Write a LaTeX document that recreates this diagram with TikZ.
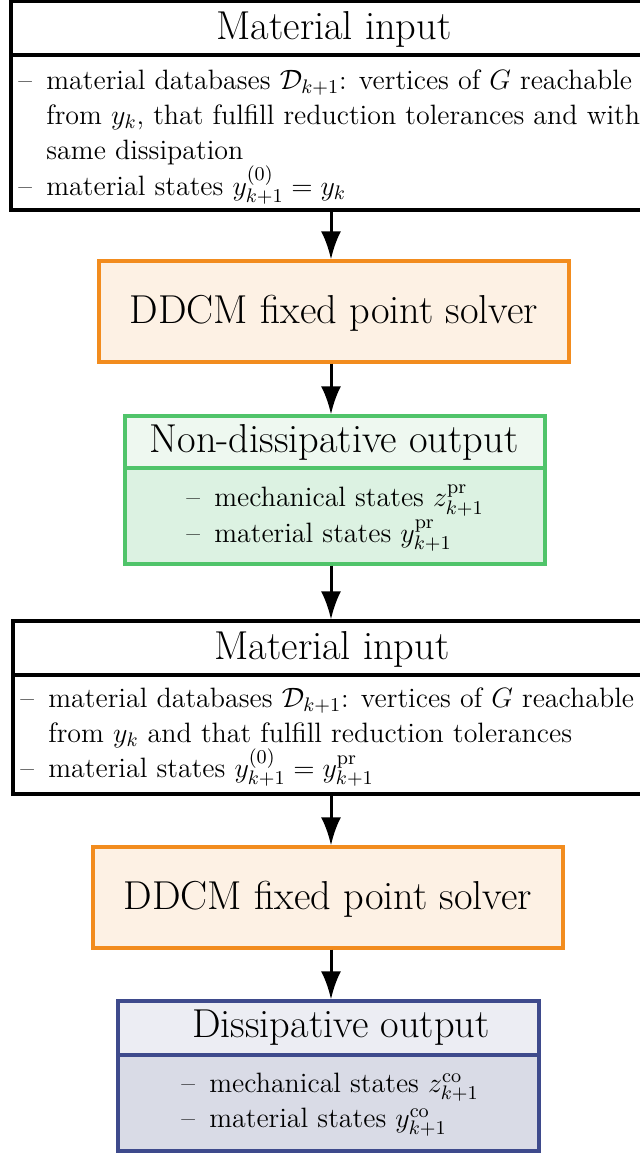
\RequirePackage{fix-cm}
\documentclass[tikz,border=0pt]{standalone}
\usetikzlibrary{fit,arrows.meta}
\definecolor{orbd}{RGB}{242,140,30}
\definecolor{orfl}{RGB}{253,241,228}
\definecolor{grbd}{RGB}{80,196,106}
\definecolor{grhd}{RGB}{238,248,240}
\definecolor{grfl}{RGB}{220,242,226}
\definecolor{blbd}{RGB}{62,74,140}
\definecolor{blhd}{RGB}{236,237,243}
\definecolor{blfl}{RGB}{217,219,230}
\newcommand\bodyfont{\fontsize{14.0}{17.6}\selectfont}
\newcommand\titlefont{\fontsize{20.2}{25}\selectfont}
\newcommand\lineitem{\makebox[14pt][l]{\textendash}}
\newcommand\contline{\hspace*{14pt}}
\begin{document}
\begin{tikzpicture}[x=0.5pt,y=-0.5pt,
  blackbox/.style={draw=black,line width=1.6pt,inner sep=0pt,fill=white},
  solverbox/.style={draw=orbd,line width=1.7pt,inner sep=0pt,fill=orfl},
  greenhead/.style={draw=grbd,line width=1.7pt,inner sep=0pt,fill=grhd},
  greenbody/.style={draw=grbd,line width=1.7pt,inner sep=0pt,fill=grfl},
  bluehead/.style={draw=blbd,line width=1.7pt,inner sep=0pt,fill=blhd},
  bluebody/.style={draw=blbd,line width=1.7pt,inner sep=0pt,fill=blfl},
  titletext/.style={inner sep=0pt,font=\titlefont},
  listtext/.style={inner sep=0pt,font=\bodyfont,align=left},
  hangtext/.style={inner sep=0pt,font=\bodyfont,align=left,anchor=west},
  arr/.style={line width=1.5pt,-{Latex[length=14pt,width=10pt]}}]
\useasboundingbox (0,0) rectangle (639,1153);
\coordinate (ax) at (331,0);
% first material input
\node[blackbox,fit={(11,1)(655,55)}] (m1h) {};
\node[blackbox,fit={(11,55)(655,210)}] (m1b) {};
\node[titletext] (m1t) at (334,29) {Material input};
\node[hangtext] (m1x) at (18,137) {%
\lineitem material databases $\mathcal{D}_{k+1}$: vertices of $G$ reachable\\
\contline from $y_k$, that fulfill reduction tolerances and with\\
\contline same dissipation\\
\lineitem material states $y^{(0)}_{k+1}=y_k$};
% first solver
\node[solverbox,fit={(99,261)(569,362)}] (s1) {};
\node[titletext] (s1t) at (334,313) {DDCM fixed point solver};
% non-dissipative output
\node[greenhead,fit={(125,416)(545,468)}] (gh) {};
\node[greenbody,fit={(125,468)(545,564)}] (gb) {};
\node[titletext] (ght) at (334,442) {Non-dissipative output};
\node[listtext] (gbt) at (335,518) {\lineitem mechanical states $z^{\mathrm{pr}}_{k+1}$\\ \lineitem material states $y^{\mathrm{pr}}_{k+1}$};
% second material input
\node[blackbox,fit={(13,621)(655,675)}] (m2h) {};
\node[blackbox,fit={(13,675)(655,794)}] (m2b) {};
\node[titletext] (m2t) at (332,649) {Material input};
\node[hangtext] (m2x) at (20,737) {%
\lineitem material databases $\mathcal{D}_{k+1}$: vertices of $G$ reachable\\
\contline from $y_k$ and that fulfill reduction tolerances\\
\lineitem material states $y^{(0)}_{k+1}=y^{\mathrm{pr}}_{k+1}$};
% second solver
\node[solverbox,fit={(93,847)(563,948)}] (s2) {};
\node[titletext] (s2t) at (328,899) {DDCM fixed point solver};
% dissipative output
\node[bluehead,fit={(118,1001)(539,1055)}] (bh) {};
\node[bluebody,fit={(118,1055)(539,1151)}] (bb) {};
\node[titletext] (bht) at (341,1028) {Dissipative output};
\node[listtext] (bbt) at (330,1105) {\lineitem mechanical states $z^{\mathrm{co}}_{k+1}$\\ \lineitem material states $y^{\mathrm{co}}_{k+1}$};
% arrows
\draw[arr] (m1b.south -| ax) -- (s1.north -| ax);
\draw[arr] (s1.south -| ax) -- (gh.north -| ax);
\draw[arr] (gb.south -| ax) -- (m2h.north -| ax);
\draw[arr] (m2b.south -| ax) -- (s2.north -| ax);
\draw[arr] (s2.south -| ax) -- (bh.north -| ax);
\end{tikzpicture}
\end{document}
